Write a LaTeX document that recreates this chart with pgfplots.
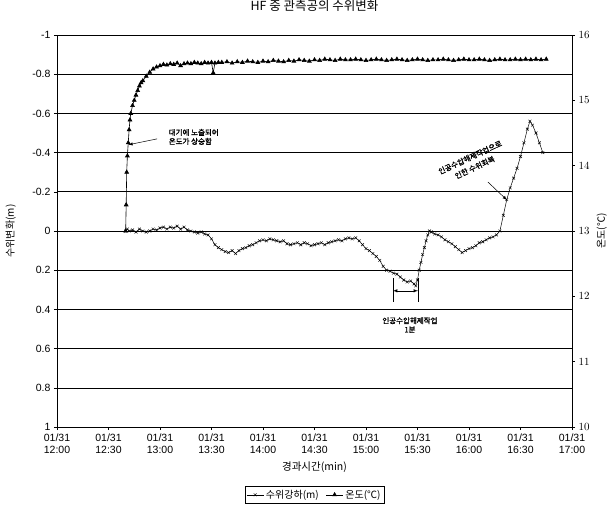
\documentclass[border=0pt]{standalone}
\usepackage{fontspec}
\setmainfont{Liberation Sans}
\newfontfamily\kr{Noto Sans CJK KR}
\newfontfamily\krb[FakeBold=1.5]{Noto Sans CJK KR}
\usepackage{pgfplots}
\usepackage{pgfplotstable}
\pgfplotsset{compat=1.18}

\pgfplotstableread{
t lev
40 0.0
41 -0.01
42 0.0
44 -0.005
46 0.005
48 -0.01
50 0.0
52 0.005
54 0.0
56 -0.01
58 -0.005
60 -0.015
62 -0.02
64 -0.01
66 -0.02
68 -0.015
70 -0.025
72 -0.01
74 -0.02
76 -0.005
78 0.0
80 0.005
82 0.01
84 0.005
86 0.015
88 0.02
90 0.04
92 0.07
94 0.085
96 0.095
98 0.105
100 0.11
102 0.1
104 0.115
106 0.1
108 0.09
110 0.085
112 0.075
114 0.07
116 0.06
118 0.05
120 0.045
122 0.05
124 0.04
126 0.045
128 0.05
130 0.055
132 0.05
134 0.065
136 0.07
138 0.065
140 0.06
142 0.07
144 0.06
146 0.065
148 0.075
150 0.07
152 0.065
154 0.06
156 0.07
158 0.06
160 0.055
162 0.05
164 0.045
166 0.05
168 0.04
170 0.035
172 0.04
174 0.035
176 0.05
178 0.07
180 0.09
182 0.1
184 0.115
186 0.13
188 0.15
190 0.18
192 0.2
194 0.205
196 0.215
198 0.22
200 0.235
202 0.25
204 0.26
206 0.255
208 0.27
209 0.28
210 0.25
211 0.2
212 0.16
213 0.12
214 0.085
215 0.05
216 0.02
217 0.0
218 0.005
220 0.015
222 0.02
224 0.03
226 0.045
228 0.055
230 0.065
232 0.08
234 0.095
236 0.11
238 0.1
240 0.09
242 0.085
244 0.075
246 0.06
248 0.055
250 0.045
252 0.035
254 0.03
256 0.02
258 0.0
260 -0.08
262 -0.16
264 -0.22
266 -0.27
268 -0.32
270 -0.38
272 -0.45
274 -0.52
275.5 -0.56
277 -0.54
279 -0.5
281 -0.45
283 -0.40
}\levtable

\pgfplotstableread{
t temp
40 13.0
40.3 13.4
40.6 13.9
41 14.15
41.5 14.35
42 14.55
42.5 14.7
43 14.8
44 14.92
45 15.0
46 15.08
47 15.15
48 15.22
49 15.27
50 15.3
52 15.37
54 15.43
56 15.48
58 15.51
60 15.53
62 15.55
64 15.54
66 15.56
68 15.55
70 15.57
72 15.53
74 15.56
76 15.57
78 15.56
80 15.58
82 15.57
84 15.56
86 15.58
88 15.57
90 15.58
91 15.42
92 15.57
94 15.58
96 15.58
99 15.59
102 15.57
105 15.59
108 15.58
111 15.60
114 15.59
117 15.58
120 15.60
123 15.59
126 15.61
129 15.60
132 15.59
135 15.61
138 15.60
141 15.62
144 15.61
147 15.60
150 15.62
153 15.61
156 15.63
159 15.62
162 15.61
165 15.63
168 15.62
171 15.62
174 15.63
177 15.62
180 15.61
183 15.62
186 15.63
189 15.62
192 15.61
195 15.62
198 15.63
201 15.62
204 15.61
207 15.62
210 15.63
213 15.62
216 15.61
219 15.62
222 15.62
225 15.63
228 15.62
231 15.61
234 15.62
237 15.63
240 15.62
243 15.62
246 15.63
249 15.62
252 15.61
255 15.62
258 15.63
261 15.62
264 15.62
267 15.63
270 15.62
273 15.63
276 15.62
279 15.63
282 15.62
285 15.63
}\temptable

\begin{document}
\begin{tikzpicture}[font=\fontsize{10.5}{12}\selectfont]
\path[use as bounding box] (-57pt,-86pt) rectangle (554pt,427pt);
\begin{axis}[
  at={(0pt,0pt)}, anchor=south west,
  scale only axis, width=515pt, height=392pt,
  xmin=0, xmax=300, ymin=-1, ymax=1, y dir=reverse,
  ytick={-1,-0.8,-0.6,-0.4,-0.2,0,0.2,0.4,0.6,0.8,1},
  yticklabels={-1,-0.8,-0.6,-0.4,-0.2,0,0.2,0.4,0.6,0.8,1},
  yticklabel style={font=\fontsize{10.5}{12}\selectfont},
  ytick pos=left,
  xtick={0,30,...,300},
  xticklabels={{01/31\\12:00},{01/31\\12:30},{01/31\\13:00},{01/31\\13:30},{01/31\\14:00},{01/31\\14:30},{01/31\\15:00},{01/31\\15:30},{01/31\\16:00},{01/31\\16:30},{01/31\\17:00}},
  xticklabel style={align=center, font=\fontsize{10.5}{12}\selectfont},
  xtick pos=bottom,
  tick align=outside, major tick length=3pt,
  tick style={black, line width=0.5pt},
  ymajorgrids, grid style={black, line width=0.6pt},
  axis line style={black, line width=0.6pt},
  xlabel={\kr 경과시간(min)},
  xlabel style={at={(axis description cs:0.5,-0.102)}, anchor=center, font=\fontsize{10.5}{12}\selectfont},
  ylabel={\kr 수위변화(m)},
  ylabel style={at={(axis description cs:-0.09,0.5)}, anchor=center, font=\fontsize{10}{12}\selectfont},
  title={\kr HF 중 관측공의 수위변화},
  title style={at={(axis description cs:0.5,1.059)}, anchor=center, font=\fontsize{12.5}{14}\selectfont},
  clip=false,
]
\addplot[black, line width=0.5pt, mark=x, mark size=2pt, mark options={line width=0.45pt}] table[x=t, y=lev] {\levtable};

% annotation 1
\node[anchor=west, align=left, font=\krb\fontsize{7.5}{9}\selectfont, inner sep=0pt] at (axis cs:65,-0.48) {대기에 노출되어\\온도가 상승함};
\draw[-latex, black, line width=0.5pt] (axis cs:58.3,-0.47) -- (axis cs:41.6,-0.44);

% annotation 2
\draw[black, line width=0.5pt] (axis cs:195.7,0.24) -- (axis cs:195.7,0.36);
\draw[black, line width=0.5pt] (axis cs:210.3,0.24) -- (axis cs:210.3,0.36);
\draw[latex-latex, black, line width=0.5pt] (axis cs:195.7,0.305) -- (axis cs:210.3,0.305);
\node[align=center, font=\krb\fontsize{7.5}{9}\selectfont, inner sep=0pt] at (axis cs:205.6,0.48) {인공수압해제작업\\1분};

% annotation 3
\node[align=center, rotate=25, font=\krb\fontsize{7.5}{11}\selectfont, inner sep=0pt] at (axis cs:242,-0.35) {인공수압해제작업으로\\인한 수위회복};
\draw[-latex, black, line width=0.5pt] (axis cs:251,-0.25) -- (axis cs:262.1,-0.158);
\end{axis}

\begin{axis}[
  at={(0pt,0pt)}, anchor=south west,
  scale only axis, width=515pt, height=392pt,
  xmin=0, xmax=300, ymin=10, ymax=16,
  axis x line=none, axis y line*=right,
  ytick={10,11,...,16},
  yticklabel style={font=\fontsize{10.5}{12}\selectfont},
  tick align=outside, major tick length=3pt,
  tick style={black, line width=0.5pt},
  axis line style={black, line width=0.6pt},
  ylabel={\kr 온도(℃)},
  ylabel style={at={(axis description cs:1.058,0.5)}, anchor=center, font=\fontsize{10}{12}\selectfont},
  legend style={at={(axis description cs:0.5,-0.173)}, anchor=center, draw=black, line width=0.5pt,
    font=\kr\fontsize{10}{12}\selectfont, inner sep=1.5pt,
    /tikz/every even column/.append style={column sep=5pt}},
  legend columns=2,
  legend cell align=left,
]
\addlegendimage{black, line width=0.5pt, mark=x, mark size=2pt, mark options={line width=0.45pt}}
\addlegendentry{수위강하(m)}
\addplot[black, line width=0.6pt, mark=triangle*, mark size=2.2pt] table[x=t, y=temp] {\temptable};
\addlegendentry{온도(℃)}
\end{axis}
\end{tikzpicture}
\end{document}
